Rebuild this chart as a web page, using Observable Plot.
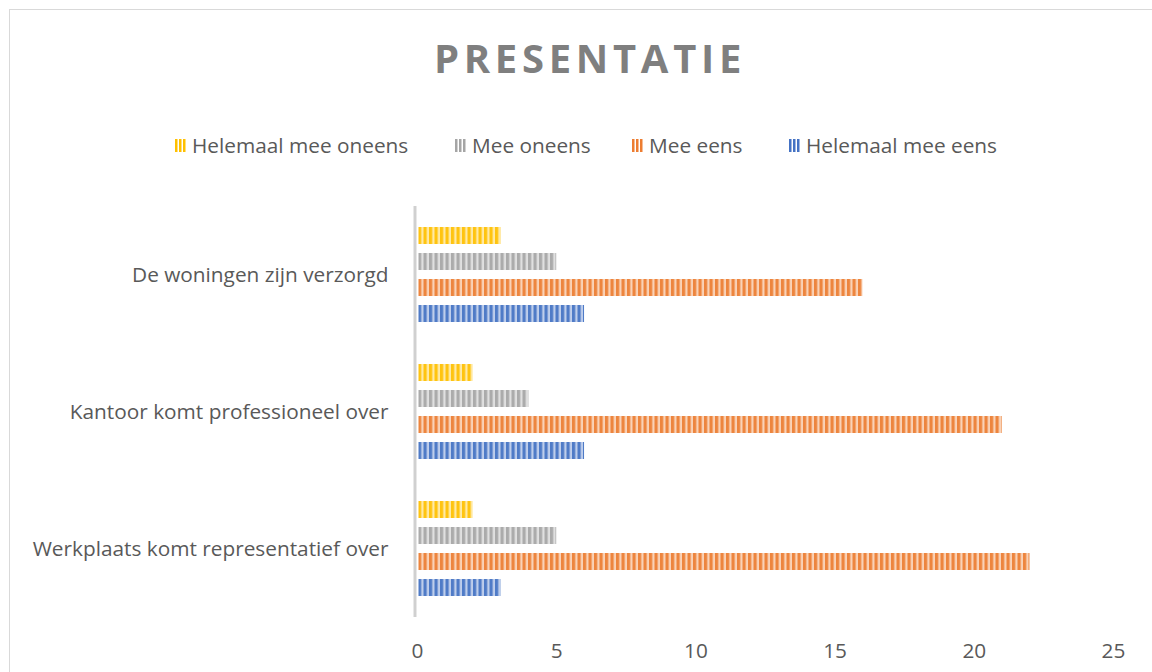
<!DOCTYPE html>
<html>
<head>
<meta charset="utf-8">
<script src="https://cdn.jsdelivr.net/npm/d3@7"></script>
<script src="https://cdn.jsdelivr.net/npm/@observablehq/plot@0.6"></script>
<style>
  body { margin: 0; background: #fff; font-family: "Open Sans", sans-serif; }
  #wrap { position: relative; width: 1152px; height: 672px; overflow: hidden; }
  #frame { position: absolute; left: 9px; top: 9px; width: 1160px; height: 680px; border: 1px solid #d9d9d9; box-sizing: border-box; }
  #title { position: absolute; left: 0; width: 1180px; top: 28px; text-align: center; font-size: 40px; font-weight: 700; letter-spacing: 4.7px; color: #7f7f7f; line-height: 60px; }
  #legend { position: absolute; left: 0; width: 1152px; top: 130px; height: 30px; }
  .item { position: absolute; top: 0; display: flex; align-items: center; font-size: 20.8px; color: #595959; line-height: 30px; white-space: nowrap; }
  .sw { width: 11px; height: 13px; margin-right: 6px; }
  #chart { position: absolute; left: 0; top: 195px; }
</style>
</head>
<body>
<div id="wrap">
  <div id="frame"></div>
  <div id="title">PRESENTATIE</div>
  <div id="legend"></div>
  <div id="chart"></div>
</div>
<script>
const categories = ["De woningen zijn verzorgd", "Kantoor komt professioneel over", "Werkplaats komt representatief over"];
const seriesNames = ["Helemaal mee oneens", "Mee oneens", "Mee eens", "Helemaal mee eens"];
const seriesColors = ["#FFC000", "#A5A5A5", "#ED7D31", "#4472C4"];
const helemaalMeeOneens = [3, 2, 2];
const meeOneens = [5, 4, 5];
const meeEens = [16, 21, 22];
const helemaalMeeEens = [6, 6, 3];
const xTicks = [0, 5, 10, 15, 20, 25];

const seriesValues = [helemaalMeeOneens, meeOneens, meeEens, helemaalMeeEens];
const data = [];
categories.forEach((c, ci) => {
  seriesNames.forEach((s, si) => {
    data.push({category: c, series: s, value: seriesValues[si][ci], si});
  });
});

// Legend
const legendX = [175, 455, 632, 789];
const legend = document.getElementById("legend");
seriesNames.forEach((s, i) => {
  const it = document.createElement("div");
  it.className = "item";
  it.style.left = legendX[i] + "px";
  const c = seriesColors[i];
  it.innerHTML = `<svg class="sw" width="11" height="13"><rect x="0" y="0" width="2.5" height="13" fill="${c}"/><rect x="4" y="0" width="2.5" height="13" fill="${c}"/><rect x="8" y="0" width="2.5" height="13" fill="${c}"/></svg><span>${s}</span>`;
  legend.appendChild(it);
});

const chart = Plot.plot({
  width: 1152,
  height: 477,
  marginLeft: 417,
  marginRight: 39,
  marginTop: 10,
  marginBottom: 54,
  style: {fontFamily: "Open Sans, sans-serif", fontSize: "20.8px", color: "#595959", background: "transparent"},
  x: {domain: [0, 25], ticks: xTicks, tickSize: 0, tickPadding: 26, label: null},
  y: {domain: seriesNames, axis: null, paddingInner: 0.33, paddingOuter: 0.75},
  fy: {domain: categories, axis: "left", tickSize: 0, tickPadding: 29, label: null, padding: 0},
  marks: [
    ...seriesNames.map((s, i) =>
      Plot.barX(data.filter(d => d.si === i), {x: "value", y: "series", fy: "category", fill: `url(#stripe${i})`, insetLeft: 1.5})
    ),
    Plot.ruleX([0], {stroke: "#d0d0d0", strokeWidth: 3, dx: -2.5})
  ]
});

// stripe patterns
const ns = "http://www.w3.org/2000/svg";
const defs = document.createElementNS(ns, "defs");
seriesColors.forEach((c, i) => {
  const p = document.createElementNS(ns, "pattern");
  p.setAttribute("id", "stripe" + i);
  p.setAttribute("patternUnits", "userSpaceOnUse");
  p.setAttribute("x", "418");
  p.setAttribute("width", "5.5");
  p.setAttribute("height", "10");
  const bg = document.createElementNS(ns, "rect");
  bg.setAttribute("width", "5.5"); bg.setAttribute("height", "10");
  bg.setAttribute("fill", c); bg.setAttribute("fill-opacity", "0.35");
  const fg = document.createElementNS(ns, "rect");
  fg.setAttribute("width", "3.2"); fg.setAttribute("height", "10");
  fg.setAttribute("fill", c); fg.setAttribute("fill-opacity", "0.9");
  p.appendChild(bg); p.appendChild(fg);
  defs.appendChild(p);
});
chart.insertBefore(defs, chart.firstChild);

document.getElementById("chart").appendChild(chart);
</script>
</body>
</html>
